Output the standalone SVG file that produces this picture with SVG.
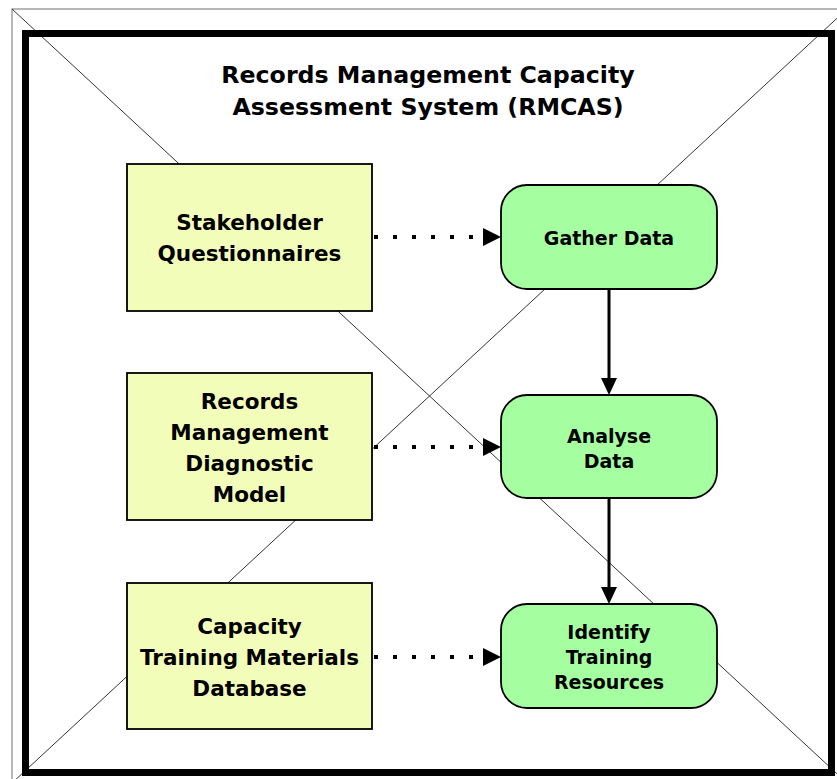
<svg xmlns="http://www.w3.org/2000/svg" width="837" height="779" viewBox="0 0 837 779">
<defs>
<style>
.t{font-family:"DejaVu Sans","Verdana",sans-serif;font-weight:bold;fill:#000;text-anchor:middle}
.title{font-size:23.7px}
.lt{font-size:21.5px}
.gt{font-size:19px}
.src{fill:#F3FDBA;stroke:#000;stroke-width:1.8}
.proc{fill:#A5FFA0;stroke:#000;stroke-width:1.8}
.dot{fill:none;stroke:#000;stroke-width:4;stroke-dasharray:4 15}
.solid{fill:none;stroke:#000;stroke-width:3}
</style>
</defs>
<rect width="837" height="779" fill="#fff"/>
<g id="background">
<rect x="12" y="9" width="835" height="774" fill="none" stroke="#888" stroke-width="1.2"/>
<line x1="12" y1="9" x2="847" y2="783" stroke="#333" stroke-width="1"/>
<line x1="12" y1="783" x2="847" y2="9" stroke="#333" stroke-width="1"/>
<rect x="25.5" y="33.5" width="806" height="739" fill="none" stroke="#000" stroke-width="7"/>
</g>
<g id="title">
<text class="t title" x="428" y="83">Records Management Capacity</text>
<text class="t title" x="428" y="115">Assessment System (RMCAS)</text>
</g>
<g id="connectors">
<line class="dot" x1="374" y1="237" x2="483" y2="237"/>
<path d="M483,228 L501,237 L483,246 Z" fill="#000"/>
<line class="dot" x1="374" y1="447" x2="483" y2="447"/>
<path d="M483,438 L501,447 L483,456 Z" fill="#000"/>
<line class="dot" x1="374" y1="657" x2="483" y2="657"/>
<path d="M483,648 L501,657 L483,666 Z" fill="#000"/>
<line class="solid" x1="609" y1="289" x2="609" y2="379"/>
<path d="M601,378 L609,395 L617,378 Z" fill="#000"/>
<line class="solid" x1="609" y1="498" x2="609" y2="588"/>
<path d="M601,587 L609,604 L617,587 Z" fill="#000"/>
</g>
<g id="stakeholder-questionnaires">
<rect class="src" x="127" y="164" width="245" height="147"/>
<text class="t lt" x="249.5" y="230">Stakeholder</text>
<text class="t lt" x="249.5" y="261">Questionnaires</text>
</g>
<g id="rm-diagnostic-model">
<rect class="src" x="127" y="373" width="245" height="147"/>
<text class="t lt" x="249.5" y="409">Records</text>
<text class="t lt" x="249.5" y="440">Management</text>
<text class="t lt" x="249.5" y="471">Diagnostic</text>
<text class="t lt" x="249.5" y="502">Model</text>
</g>
<g id="capacity-training-db">
<rect class="src" x="127" y="583" width="245" height="146"/>
<text class="t lt" x="249.5" y="634">Capacity</text>
<text class="t lt" x="249.5" y="665">Training Materials</text>
<text class="t lt" x="249.5" y="696">Database</text>
</g>
<g id="gather-data">
<rect class="proc" x="501" y="185" width="216" height="104" rx="26"/>
<text class="t gt" x="609" y="245">Gather Data</text>
</g>
<g id="analyse-data">
<rect class="proc" x="501" y="395" width="216" height="103" rx="26"/>
<text class="t gt" x="609" y="443">Analyse</text>
<text class="t gt" x="609" y="468">Data</text>
</g>
<g id="identify-training">
<rect class="proc" x="501" y="604" width="216" height="104" rx="26"/>
<text class="t gt" x="609" y="639">Identify</text>
<text class="t gt" x="609" y="664">Training</text>
<text class="t gt" x="609" y="689">Resources</text>
</g>
</svg>
